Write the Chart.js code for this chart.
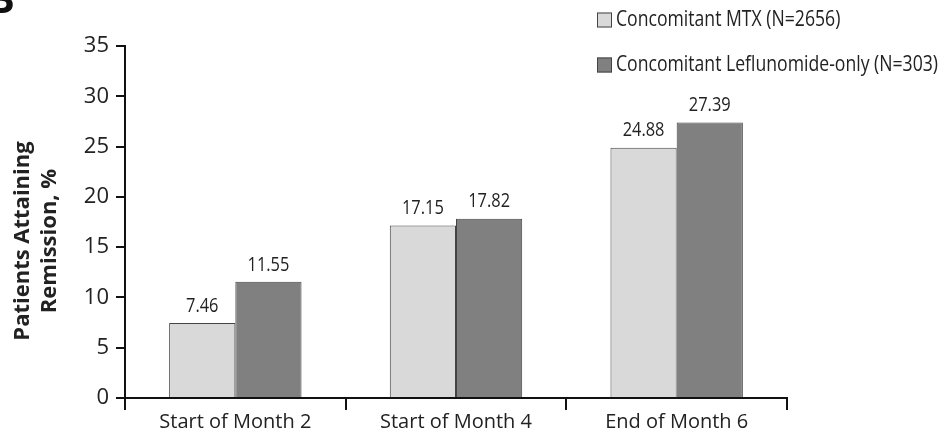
<!DOCTYPE html>
<html>
<head>
<meta charset="utf-8">
<script src="https://cdn.jsdelivr.net/npm/chart.js@4.4.0/dist/chart.umd.min.js"></script>
<style>
  html, body { margin: 0; padding: 0; background: #fff; }
  #wrap { width: 942px; height: 436px; position: relative; }
</style>
</head>
<body>
<div id="wrap"><canvas id="chart"></canvas></div>
<script>
// data
const categories = ["Start of Month 2", "Start of Month 4", "End of Month 6"];
const mtxValues = [7.46, 17.15, 24.88];
const leflValues = [11.55, 17.82, 27.39];
const seriesLabels = ["Concomitant MTX (N=2656)", "Concomitant Leflunomide-only (N=303)"];
const yTicks = [0, 5, 10, 15, 20, 25, 30, 35];

const FONT = "'Open Sans', 'Noto Sans', sans-serif";

// draw text squeezed sideways (original uses a condensed face)
function narrowText(ctx, text, x, y, sx) {
  ctx.save();
  ctx.translate(x, y);
  ctx.scale(sx, 1);
  ctx.fillText(text, 0, 0);
  ctx.restore();
}

// value labels above each bar
const valueLabels = {
  id: "valueLabels",
  afterDatasetsDraw(chart) {
    const ctx = chart.ctx;
    ctx.save();
    ctx.font = "20px " + FONT;
    ctx.fillStyle = "#222";
    ctx.textAlign = "center";
    ctx.textBaseline = "bottom";
    chart.data.datasets.forEach(function (ds, i) {
      chart.getDatasetMeta(i).data.forEach(function (bar, j) {
        narrowText(ctx, ds.data[j].toFixed(2), bar.x, bar.y - 7, 0.82);
      });
    });
    ctx.restore();
  }
};

// legend stacked at top right + y title + panel letter
const extras = {
  id: "extras",
  afterDraw(chart) {
    const ctx = chart.ctx;
    ctx.save();
    // legend
    ctx.font = "21px " + FONT;
    ctx.textBaseline = "middle";
    ctx.textAlign = "left";
    const sx = 322 / ctx.measureText(seriesLabels[1]).width;
    chart.data.datasets.forEach(function (ds, i) {
      const y = 20 + i * 45;
      ctx.fillStyle = ds.backgroundColor;
      ctx.strokeStyle = ds.borderColor;
      ctx.lineWidth = 1;
      ctx.fillRect(597, y - 7.5, 15, 15);
      ctx.strokeRect(597.5, y - 7, 14, 14);
      ctx.fillStyle = "#222";
      narrowText(ctx, ds.label, 616, y, sx);
    });
    // y title
    ctx.fillStyle = "#222";
    ctx.font = "bold 22px " + FONT;
    ctx.textAlign = "center";
    ctx.textBaseline = "alphabetic";
    ctx.translate(0, 241);
    ctx.rotate(-Math.PI / 2);
    ctx.fillText("Patients Attaining", 0, 29);
    ctx.fillText("Remission, %", 0, 56);
    ctx.restore();
    // panel letter, cut at the top edge
    ctx.save();
    ctx.fillStyle = "#111";
    ctx.font = "bold 40px " + FONT;
    ctx.textBaseline = "alphabetic";
    ctx.fillText("B", -12, 13);
    ctx.restore();
  }
};

new Chart("chart", {
  type: "bar",
  data: {
    labels: categories,
    datasets: [
      {
        label: seriesLabels[0],
        data: mtxValues,
        backgroundColor: "#d9d9d9",
        borderColor: "#444",
        borderWidth: 1,
      },
      {
        label: seriesLabels[1],
        data: leflValues,
        backgroundColor: "#808080",
        borderColor: "#444",
        borderWidth: 1,
      },
    ],
  },
  options: {
    responsive: true,
    maintainAspectRatio: false,
    animation: false,
    events: [],
    layout: { padding: { top: 46, right: 155, left: 0, bottom: 0 } },
    plugins: {
      legend: { display: false },
      tooltip: { enabled: false },
    },
    datasets: { bar: { barPercentage: 1, categoryPercentage: 0.6 } },
    scales: {
      x: {
        grid: { offset: true, drawOnChartArea: false, tickLength: 12, color: "#111", lineWidth: 2 },
        border: { color: "#111", width: 2 },
        ticks: { color: "#222", font: { family: FONT, size: 20 }, padding: 0 },
        afterFit(scale) { scale.height = 38; },
      },
      y: {
        min: 0,
        max: 35,
        afterBuildTicks(scale) { scale.ticks = yTicks.map(function (v) { return { value: v }; }); },
        grid: { drawOnChartArea: false, tickLength: 9, color: "#111", lineWidth: 2 },
        border: { color: "#111", width: 2 },
        ticks: { color: "#222", font: { family: FONT, size: 22 }, padding: 7 },
        afterFit(scale) { scale.width = 125; },
      },
    },
  },
  plugins: [valueLabels, extras],
});
</script>
</body>
</html>
